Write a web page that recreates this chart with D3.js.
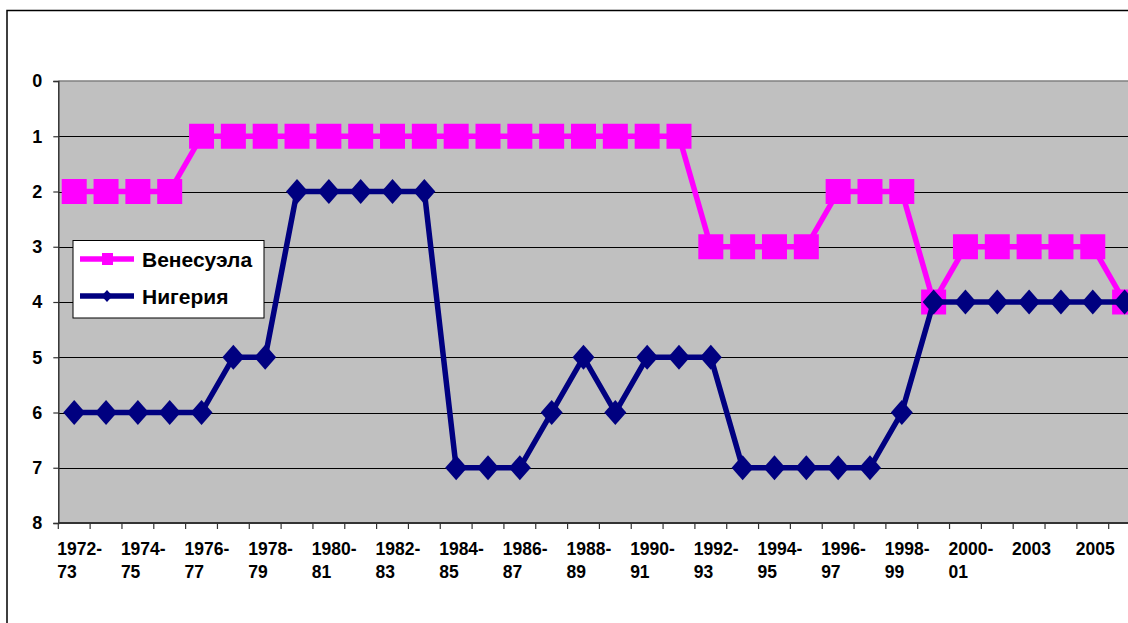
<!DOCTYPE html>
<html>
<head>
<meta charset="utf-8">
<script src="https://cdn.jsdelivr.net/npm/d3@7/dist/d3.min.js"></script>
<style>
  html, body { margin: 0; padding: 0; background: #fff; }
  svg { display: block; font-family: "Liberation Sans", Arial, sans-serif; font-weight: bold; }
</style>
</head>
<body>
<svg id="chart" width="1128" height="623"></svg>
<script>
// Seasons (rank positions by year)
const categories = [
  "1972-73","1973-74","1974-75","1975-76","1976-77","1977-78","1978-79","1979-80",
  "1980-81","1981-82","1982-83","1983-84","1984-85","1985-86","1986-87","1987-88",
  "1988-89","1989-90","1990-91","1991-92","1992-93","1993-94","1994-95","1995-96",
  "1996-97","1997-98","1998-99","1999-00","2000-01","2002","2003","2004","2005","2006"
];
const venezuela = [2,2,2,2,1,1,1,1,1,1,1,1,1,1,1,1,1,1,1,1,3,3,3,3,2,2,2,4,3,3,3,3,3,4];
const nigeria   = [6,6,6,6,6,5,5,2,2,2,2,2,7,7,7,6,5,6,5,5,5,7,7,7,7,7,6,4,4,4,4,4,4,4];
const yTicks = [0,1,2,3,4,5,6,7,8];
const seriesNames = ["Венесуэла", "Нигерия"];
const seriesColors = ["#FF00FF", "#000080"];

const svg = d3.select("#chart");

const plot = { left: 58.3, top: 81, bottom: 523, band: 31.83 };
const x = d3.scaleBand()
  .domain(categories)
  .range([plot.left, plot.left + plot.band * categories.length])
  .paddingInner(0).paddingOuter(0);
const y = d3.scaleLinear().domain([0, 8]).range([plot.top, plot.bottom]);
const plotRight = x.range()[1];

// Outer chart frame
svg.append("rect")
  .attr("x", 7).attr("y", 10.5)
  .attr("width", 1200).attr("height", 700)
  .attr("fill", "none").attr("stroke", "#000").attr("stroke-width", 1.5);

// Plot area
svg.append("rect")
  .attr("x", plot.left).attr("y", plot.top)
  .attr("width", plotRight - plot.left).attr("height", plot.bottom - plot.top)
  .attr("fill", "#C0C0C0");

// Gridlines
svg.append("g")
  .selectAll("line")
  .data(yTicks.filter(d => d > 0 && d < 8))
  .join("line")
  .attr("x1", plot.left).attr("x2", plotRight)
  .attr("y1", d => Math.round(y(d)) + 0.5).attr("y2", d => Math.round(y(d)) + 0.5)
  .attr("stroke", "#000").attr("stroke-width", 1);

// Top edge of plot area
svg.append("line")
  .attr("x1", plot.left).attr("x2", plotRight)
  .attr("y1", plot.top).attr("y2", plot.top)
  .attr("stroke", "#808080").attr("stroke-width", 1.5);

// Y axis
const yAxis = svg.append("g")
  .attr("transform", `translate(${plot.left},0)`)
  .call(d3.axisLeft(y).tickValues(yTicks).tickSize(5).tickPadding(11).tickFormat(d3.format("d")));
yAxis.select(".domain").attr("stroke", "#333").attr("stroke-width", 1.5);
yAxis.selectAll(".tick line").attr("stroke", "#333").attr("stroke-width", 1.2);
yAxis.selectAll(".tick text")
  .attr("fill", "#000").attr("font-size", 18).attr("font-weight", "bold")
  .attr("font-family", "'Liberation Sans', Arial, sans-serif");

// X axis line and tick marks at band boundaries
const xg = svg.append("g");
xg.append("line")
  .attr("x1", plot.left).attr("x2", plotRight)
  .attr("y1", plot.bottom).attr("y2", plot.bottom)
  .attr("stroke", "#333").attr("stroke-width", 2);
xg.selectAll("line.tick")
  .data(categories)
  .join("line")
  .attr("class", "tick")
  .attr("x1", d => x(d)).attr("x2", d => x(d))
  .attr("y1", plot.bottom).attr("y2", plot.bottom + 6)
  .attr("stroke", "#333").attr("stroke-width", 1.2);

// Category labels (every second one, wrapped at the hyphen)
const labelled = categories.filter((d, i) => i % 2 === 0);
const lbl = xg.selectAll("text.cat")
  .data(labelled)
  .join("text")
  .attr("class", "cat")
  .attr("font-size", 17.5)
  .attr("fill", "#000")
  .attr("text-anchor", "start");
lbl.each(function(d) {
  const t = d3.select(this);
  const x0 = x(d) + x.bandwidth() / 2 - 17;
  const parts = d.includes("-") ? [d.slice(0, d.indexOf("-") + 1), d.slice(d.indexOf("-") + 1)] : [d];
  parts.forEach((p, k) => {
    t.append("tspan").attr("x", x0).attr("y", 555 + k * 23).text(p);
  });
});

// Series lines and markers
const cx = d => x(d) + x.bandwidth() / 2;
const line = d3.line().x(d => cx(d.c)).y(d => y(d.v));

const vData = categories.map((c, i) => ({ c, v: venezuela[i] }));
const nData = categories.map((c, i) => ({ c, v: nigeria[i] }));

svg.append("path")
  .datum(vData)
  .attr("d", line)
  .attr("fill", "none").attr("stroke", seriesColors[0]).attr("stroke-width", 5.5)
  .attr("stroke-linejoin", "round");
svg.append("g").selectAll("rect")
  .data(vData)
  .join("rect")
  .attr("x", d => cx(d.c) - 12.5).attr("y", d => y(d.v) - 12.5)
  .attr("width", 25).attr("height", 25)
  .attr("fill", seriesColors[0]);

const diamond = (w, h) => `M0,${-h/2}L${w/2},0L0,${h/2}L${-w/2},0Z`;

svg.append("path")
  .datum(nData)
  .attr("d", line)
  .attr("fill", "none").attr("stroke", seriesColors[1]).attr("stroke-width", 5.5)
  .attr("stroke-linejoin", "round");
svg.append("g").selectAll("path")
  .data(nData)
  .join("path")
  .attr("transform", d => `translate(${cx(d.c)},${y(d.v)})`)
  .attr("d", diamond(22, 25))
  .attr("fill", seriesColors[1]);

// Legend
const lg = svg.append("g");
lg.append("rect")
  .attr("x", 73).attr("y", 240.5).attr("width", 191).attr("height", 77.5)
  .attr("fill", "#fff").attr("stroke", "#000").attr("stroke-width", 1);
const legendRows = [259, 296];
seriesNames.forEach((name, i) => {
  const ly = legendRows[i];
  lg.append("line")
    .attr("x1", 80).attr("x2", 134).attr("y1", ly).attr("y2", ly)
    .attr("stroke", seriesColors[i]).attr("stroke-width", 5.5);
  if (i === 0) {
    lg.append("rect").attr("x", 102).attr("y", ly - 6).attr("width", 11).attr("height", 12)
      .attr("fill", seriesColors[i]);
  } else {
    lg.append("path").attr("transform", `translate(107,${ly})`)
      .attr("d", diamond(11, 12)).attr("fill", seriesColors[i]);
  }
  lg.append("text")
    .attr("x", 142).attr("y", ly + 7.5)
    .attr("font-size", 21).attr("fill", "#000")
    .text(name);
});
</script>
</body>
</html>
